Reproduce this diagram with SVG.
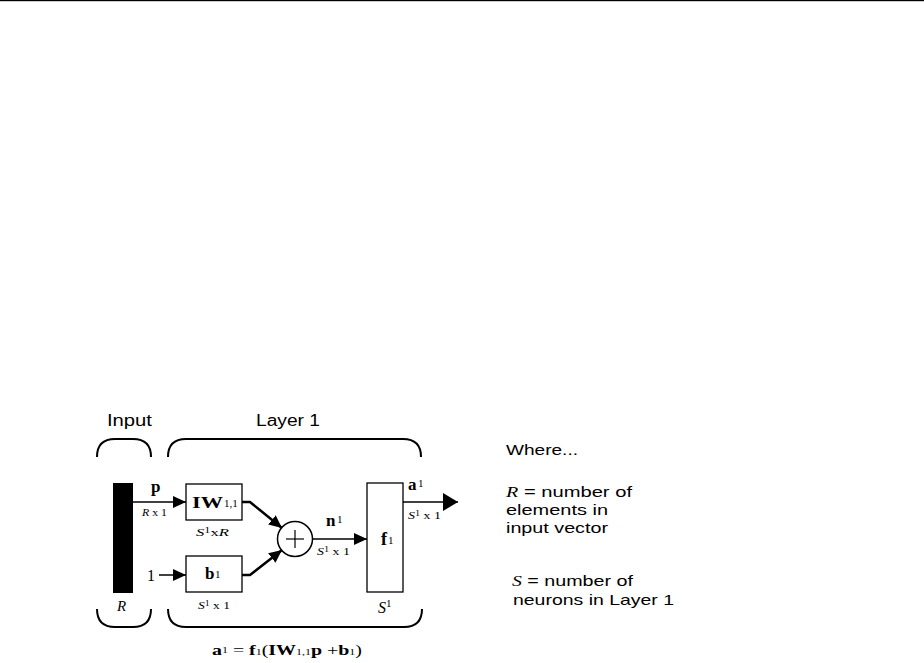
<svg xmlns="http://www.w3.org/2000/svg" width="924" height="663" viewBox="0 0 924 663">
<style>
.box{fill:#fff;stroke:#000;stroke-width:1.3}
.br{fill:none;stroke:#000;stroke-width:2}
.ln{fill:none;stroke:#000;stroke-width:1.5}
.ln2{fill:none;stroke:#000;stroke-width:2.5}
.sans{font-family:"Liberation Sans",Arial,sans-serif;fill:#000}
.ser{font-family:"Liberation Serif","Times New Roman",serif;fill:#000}
.b{font-weight:bold}
.i{font-style:italic}
.sm{font-size:11px}
</style>
<defs>
<marker id="ah" markerWidth="13" markerHeight="12" refX="13" refY="6" orient="auto" markerUnits="userSpaceOnUse"><path d="M0,0 L13,6 L0,12 Z" fill="#000"/></marker>
<marker id="ahb" markerWidth="15" markerHeight="18" refX="15" refY="9" orient="auto" markerUnits="userSpaceOnUse"><path d="M0,0 L15,9 L0,18 Z" fill="#000"/></marker>
</defs>
<rect x="0" y="0" width="924" height="1.2" fill="#000"/>

<g id="brackets">
<path class="br" d="M97,457 Q97,439 115,439 L133,439 Q151,439 151,457"/>
<path class="br" d="M168,457 Q168,439 186,439 L403,439 Q421,439 421,457"/>
<path class="br" d="M97,609 Q97,627 115,627 L133,627 Q151,627 151,609"/>
<path class="br" d="M168,609 Q168,627 186,627 L404,627 Q422,627 422,609"/>
<text class="sans" x="107" y="426" font-size="16" textLength="45" lengthAdjust="spacingAndGlyphs">Input</text>
<text class="sans" x="256" y="426" font-size="16" textLength="64" lengthAdjust="spacingAndGlyphs">Layer 1</text>
</g>

<g id="connectors">
<line class="ln" x1="133" y1="502" x2="186" y2="502" marker-end="url(#ah)"/>
<line class="ln" x1="159" y1="575" x2="186" y2="575" marker-end="url(#ah)"/>
<polyline class="ln2" points="242,502 250,502 282,528" marker-end="url(#ah)"/>
<polyline class="ln2" points="242,575 250,575 282,550" marker-end="url(#ah)"/>
<line class="ln" x1="313" y1="539" x2="367" y2="539" marker-end="url(#ah)"/>
<line class="ln" x1="403" y1="502" x2="458" y2="502" marker-end="url(#ahb)"/>
</g>

<g id="input">
<rect x="113" y="483" width="20" height="110" fill="#000"/>
<text class="ser i" x="117" y="611" font-size="15">R</text>
<text class="ser b" x="151" y="492" font-size="17">p</text>
<text class="ser sm" x="142" y="516" textLength="25" lengthAdjust="spacingAndGlyphs"><tspan class="i">R</tspan> x 1</text>
<text class="ser" x="147" y="581" font-size="16">1</text>
</g>

<g id="iw">
<rect class="box" x="186" y="484" width="56" height="36"/>
<text class="ser b" x="192" y="508" font-size="16" textLength="31" lengthAdjust="spacingAndGlyphs">IW</text>
<text class="ser sm" x="224" y="507">1,1</text>
<text class="ser sm" x="196" y="536" textLength="33" lengthAdjust="spacingAndGlyphs"><tspan class="i">S</tspan><tspan font-size="8" dy="-3">1</tspan><tspan dy="3">x</tspan><tspan class="i">R</tspan></text>
</g>

<g id="b">
<rect class="box" x="186" y="556" width="56" height="36"/>
<text class="ser b" x="205" y="579" font-size="17">b</text>
<text class="ser sm" x="215" y="578">1</text>
<text class="ser sm" x="198" y="609" textLength="32" lengthAdjust="spacingAndGlyphs"><tspan class="i">S</tspan><tspan font-size="8" dy="-3">1</tspan><tspan dy="3"> x 1</tspan></text>
</g>

<g id="sum">
<circle cx="295" cy="539" r="17.5" fill="#fff" stroke="#000" stroke-width="1.5"/>
<line x1="286" y1="539" x2="304" y2="539" stroke="#000" stroke-width="1.2"/>
<line x1="295" y1="530" x2="295" y2="548" stroke="#000" stroke-width="1.2"/>
<text class="ser b" x="326" y="526" font-size="17">n</text>
<text class="ser sm" x="337" y="523">1</text>
<text class="ser sm" x="317" y="555" textLength="33" lengthAdjust="spacingAndGlyphs"><tspan class="i">S</tspan><tspan font-size="8" dy="-3">1</tspan><tspan dy="3"> x 1</tspan></text>
</g>

<g id="f">
<rect class="box" x="367" y="483" width="36" height="109"/>
<text class="ser b" x="381" y="545" font-size="18">f</text>
<text class="ser sm" x="388" y="544">1</text>
<text class="ser i" x="378" y="613" font-size="16">S<tspan font-style="normal" font-size="11" dy="-6">1</tspan></text>
<text class="ser b" x="408" y="490" font-size="17">a</text>
<text class="ser sm" x="418" y="487">1</text>
<text class="ser sm" x="408" y="519" textLength="33" lengthAdjust="spacingAndGlyphs"><tspan class="i">S</tspan><tspan font-size="8" dy="-3">1</tspan><tspan dy="3"> x 1</tspan></text>
</g>

<g id="equation">
<text class="ser" x="212" y="655" font-size="15" textLength="150" lengthAdjust="spacingAndGlyphs"><tspan class="b">a</tspan><tspan font-size="9" dy="-2">1</tspan><tspan dy="2"> = </tspan><tspan class="b">f</tspan><tspan font-size="9">1</tspan>(<tspan class="b">IW</tspan><tspan font-size="9">1,1</tspan><tspan class="b">p</tspan> +<tspan class="b">b</tspan><tspan font-size="9">1</tspan>)</text>
</g>

<g id="legend">
<text class="sans" x="506" y="455" font-size="15" textLength="72" lengthAdjust="spacingAndGlyphs">Where...</text>
<text class="sans" x="506" y="497" font-size="15" textLength="126" lengthAdjust="spacingAndGlyphs"><tspan class="ser i">R</tspan> = number of</text>
<text class="sans" x="506" y="515" font-size="15" textLength="102" lengthAdjust="spacingAndGlyphs">elements in</text>
<text class="sans" x="506" y="533" font-size="15" textLength="102" lengthAdjust="spacingAndGlyphs">input vector</text>
<text class="sans" x="512" y="586" font-size="15" textLength="121" lengthAdjust="spacingAndGlyphs"><tspan class="ser i">S</tspan> = number of</text>
<text class="sans" x="513" y="605" font-size="15" textLength="161" lengthAdjust="spacingAndGlyphs">neurons in Layer 1</text>
</g>
</svg>
